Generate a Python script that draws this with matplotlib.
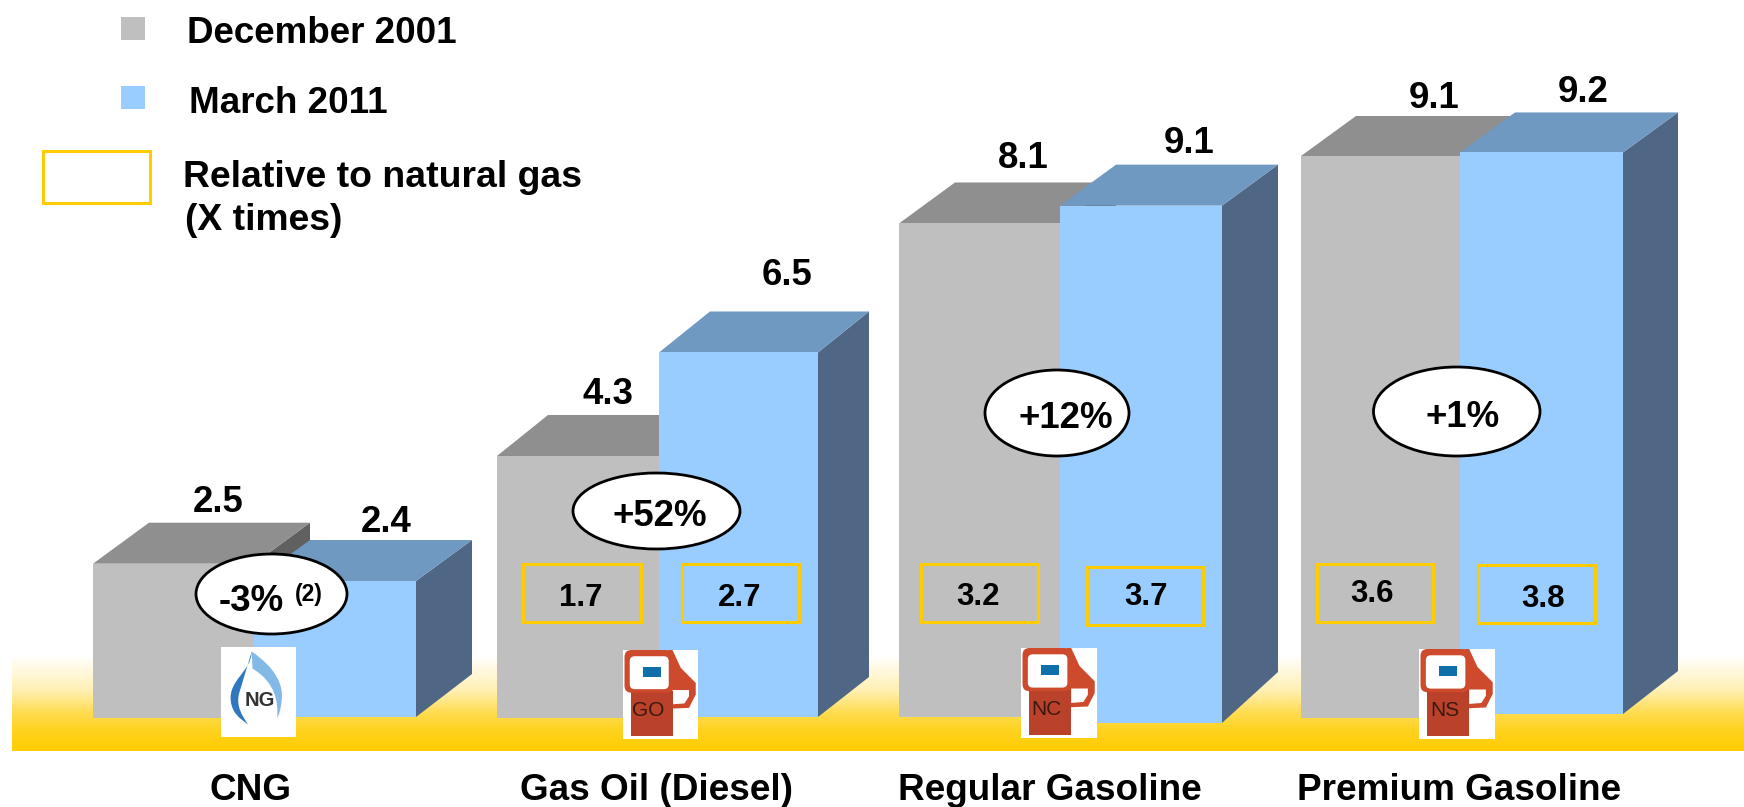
#Recreates the fuel price bar chart (December 2001 vs March 2011) with fake 3d bars
#Everything is drawn in one full figure axes that is measured in pixels of the 1744x807 picture

import numpy as np
import matplotlib
matplotlib.use('Agg')
import matplotlib.pyplot as plt
from matplotlib.patches import Polygon, Rectangle, Ellipse, FancyBboxPatch, PathPatch
from matplotlib.path import Path

plt.rcParams['font.family'] = ['Liberation Sans', 'DejaVu Sans']

fuels = ['CNG', 'Gas Oil (Diesel)', 'Regular Gasoline', 'Premium Gasoline']
dec_2001 = [2.5, 4.3, 8.1, 9.1]
mar_2011 = [2.4, 6.5, 9.1, 9.2]
rel_2001 = [None, '1.7', '3.2', '3.6']
rel_2011 = [None, '2.7', '3.7', '3.8']
changes = ['-3%', '+52%', '+12%', '+1%']
icon_names = ['NG', 'GO', 'NC', 'NS']

GRAY, GRAY_TOP, GRAY_SIDE = '#BFBFBF', '#8F8F8F', '#606060'
BLUE, BLUE_TOP, BLUE_SIDE = '#99CCFF', '#7099C2', '#4F6685'
YELLOW = '#FFCC00'
RED, RED_DARK = '#CE4A2C', '#BA412A'

#layout of the bars: the original picture is not quite to scale so each bar has its own factor
gray_left = [93, 497, 899, 1301]
blue_left = [254, 659, 1060, 1460]
blue_right = [416, 818, 1222, 1623]
gray_base = [717.7, 717.7, 717, 718]
blue_base = [717, 717, 723, 714]
gray_scale = [61.6, 60.86, 60.93, 61.76]
blue_scale = [56.67, 56.08, 56.85, 61.04]
depth_x = [56, 51, 56, 55]
depth_y = [41, 41, 41, 40]
side_drop = [43, 40, 51, 43]

label_2001 = [(218, 512), (608, 404), (1023, 168), (1434, 107.5)]
label_2011 = [(386, 532), (787, 285), (1189, 153), (1583, 102)]
cat_pos = [(250, 800.5), (656, 800.5), (1050, 800.5), (1459, 800.5)]
ell_box = [(196, 347, 554, 634), (573, 740, 473, 549), (985, 1129, 370, 456), (1373.5, 1540, 367, 456)]
ell_text = [(251, 611), (659.5, 526), (1065.5, 428), (1462.6, 427)]
box_2001 = [None, (523, 641, 564, 622), (921, 1038, 564, 622), (1317, 1433, 564, 622)]
box_2011 = [None, (682, 799, 564, 622), (1087, 1203, 567, 625), (1478, 1594.5, 565, 623)]
box_text_2001 = [None, (581, 605.7), (978, 605), (1372, 602)]
box_text_2011 = [None, (740, 605.7), (1146, 605), (1543, 606.7)]
icon_box = [(221, 296, 647, 737), (623, 698, 650, 739), (1021, 1097, 648, 738), (1419, 1495, 649, 739)]


def bold(x, y, s, size=26.4, ha='center', zorder=10):
    ax.text(x, y, s, fontsize=size, fontweight='bold', ha=ha, va='baseline', color='black', zorder=zorder)


def draw_bar(left, right, base, height, dx, dy, drop, front, top, side):
    y_top = base - height
    ax.add_patch(Polygon([(right, y_top), (right + dx, y_top - dy), (right + dx, base - drop), (right, base)],
                         closed=True, fc=side, ec='none', zorder=3))
    ax.add_patch(Polygon([(left, y_top), (left + dx, y_top - dy), (right + dx, y_top - dy), (right, y_top)],
                         closed=True, fc=top, ec='none', zorder=3))
    ax.bar(left, height, width=right - left, bottom=y_top, align='edge', color=front, linewidth=0, zorder=3)


def yellow_box(b):
    ax.add_patch(Rectangle((b[0], b[2]), b[1] - b[0], b[3] - b[2], fc='none', ec=YELLOW, lw=2.2, zorder=6))


def draw_pump(b, name):
    x0, y0 = b[0], b[2]
    w, h = b[1] - b[0], b[3] - b[2]

    def pt(u, v):
        return (x0 + u * w, y0 + v * h)
    #hose on the right side, with the white gap of the handle
    ax.add_patch(Polygon([pt(.60, 0), pt(.66, 0), pt(.77, .2), pt(.97, .37), pt(.97, .5), pt(.88, .65), pt(.6, .66)],
                         closed=True, fc=RED, ec='none', zorder=8))
    ax.add_patch(Polygon([pt(.66, .45), pt(.88, .45), pt(.88, .52), pt(.82, .60), pt(.66, .61)],
                         closed=True, fc='white', ec='none', zorder=8))
    #lower body and head
    ax.add_patch(Rectangle(pt(.1, .46), .56 * w, .51 * h, fc=RED_DARK, ec='none', zorder=8))
    ax.add_patch(FancyBboxPatch(pt(.02, .0), .64 * w, .48 * h, boxstyle='round,pad=0,rounding_size=7',
                                fc=RED, ec='none', zorder=8))
    ax.add_patch(FancyBboxPatch(pt(.09, .07), .52 * w, .37 * h, boxstyle='round,pad=0,rounding_size=5',
                                fc='white', ec='none', zorder=8))
    ax.add_patch(Rectangle(pt(.26, .19), .24 * w, .11 * h, fc='#0F6FA8', ec='none', zorder=9))
    tx, ty = pt(.34, .68)
    ax.text(tx, ty, name, fontsize=15, ha='center', va='center', color='#3A1A10', zorder=9)


def draw_flame(b, name):
    x0, y0 = b[0], b[2]
    w, h = b[1] - b[0], b[3] - b[2]

    def pt(u, v):
        return (x0 + u * w, y0 + v * h)
    codes = [Path.MOVETO, Path.CURVE4, Path.CURVE4, Path.CURVE4, Path.CURVE4, Path.CURVE4, Path.CURVE4,
             Path.CURVE4, Path.CURVE4, Path.CURVE4, Path.CLOSEPOLY]
    #crescents: down the outside of the flame and back up along the inside
    left = Path([pt(.41, .05), pt(.40, .28), pt(.10, .36), pt(.13, .60), pt(.15, .74), pt(.26, .80), pt(.36, .86),
                 pt(.28, .76), pt(.20, .66), pt(.24, .52), pt(.41, .05)], codes)
    right = Path([pt(.41, .05), pt(.56, .14), pt(.84, .32), pt(.81, .58), pt(.80, .68), pt(.78, .74), pt(.75, .79),
                  pt(.76, .62), pt(.74, .40), pt(.42, .24), pt(.41, .05)], codes)
    ax.add_patch(PathPatch(right, fc='#82B9E6', ec='none', zorder=8))
    ax.add_patch(PathPatch(left, fc='#2F78BE', ec='none', zorder=8))
    tx, ty = pt(.52, .60)
    ax.text(tx, ty, name, fontsize=14.5, fontweight='bold', ha='center', va='center', color='#333333', zorder=9)


fig = plt.figure(figsize=(17.44, 8.07), dpi=100)
ax = fig.add_axes([0, 0, 1, 1])

#band at the bottom, white fading into yellow, faster towards the middle
yellow_rgb = np.array(matplotlib.colors.to_rgb(YELLOW))
band_y = np.arange(650, 751)
fade = np.interp(band_y, [655, 690, 712, 730, 751], [0, .3, .68, .88, 1])[:, None, None]
band = (1 - fade) * np.ones((len(band_y), 1, 3)) + fade * yellow_rgb
ax.imshow(band, extent=(12, 1744, 751, 650), aspect='auto', zorder=1, interpolation='bilinear')

ax.set_xlim(0, 1744)
ax.set_ylim(807, 0)
ax.axis('off')

for i in range(len(fuels)):
    draw_bar(gray_left[i], blue_left[i], gray_base[i], dec_2001[i] * gray_scale[i],
             depth_x[i], depth_y[i], side_drop[i], GRAY, GRAY_TOP, GRAY_SIDE)
    draw_bar(blue_left[i], blue_right[i], blue_base[i], mar_2011[i] * blue_scale[i],
             depth_x[i], depth_y[i], side_drop[i], BLUE, BLUE_TOP, BLUE_SIDE)
    bold(label_2001[i][0], label_2001[i][1], '%.1f' % dec_2001[i])
    bold(label_2011[i][0], label_2011[i][1], '%.1f' % mar_2011[i])
    bold(cat_pos[i][0], cat_pos[i][1], fuels[i], size=26.6)

    e = ell_box[i]
    ax.add_patch(Ellipse(((e[0] + e[1]) / 2, (e[2] + e[3]) / 2), e[1] - e[0], e[3] - e[2],
                         fc='white', ec='black', lw=2, zorder=7))
    bold(ell_text[i][0], ell_text[i][1], changes[i], zorder=9)

    if rel_2001[i] is not None:
        yellow_box(box_2001[i])
        yellow_box(box_2011[i])
        bold(box_text_2001[i][0], box_text_2001[i][1], rel_2001[i], size=22.5)
        bold(box_text_2011[i][0], box_text_2011[i][1], rel_2011[i], size=22.5)

    b = icon_box[i]
    ax.add_patch(Rectangle((b[0], b[2]), b[1] - b[0], b[3] - b[2], fc='white', ec='none', zorder=7))
    if i == 0:
        draw_flame(b, icon_names[i])
    else:
        draw_pump(b, icon_names[i])

bold(309, 601, '(2)', size=16.5, zorder=9)

#legend
ax.add_patch(Rectangle((121, 17), 24, 23, fc=GRAY, ec='none'))
ax.add_patch(Rectangle((121, 86), 24, 23, fc=BLUE, ec='none'))
ax.add_patch(Rectangle((43, 151), 107, 52, fc='none', ec=YELLOW, lw=2.2))
bold(187, 43, 'December 2001', size=26.5, ha='left')
bold(189, 112.7, 'March 2011', size=26.5, ha='left')
bold(182.5, 187, 'Relative to natural gas', size=26.9, ha='left')
bold(185, 230, '(X times)', size=26.8, ha='left')

plt.savefig('out.png', dpi=100)
